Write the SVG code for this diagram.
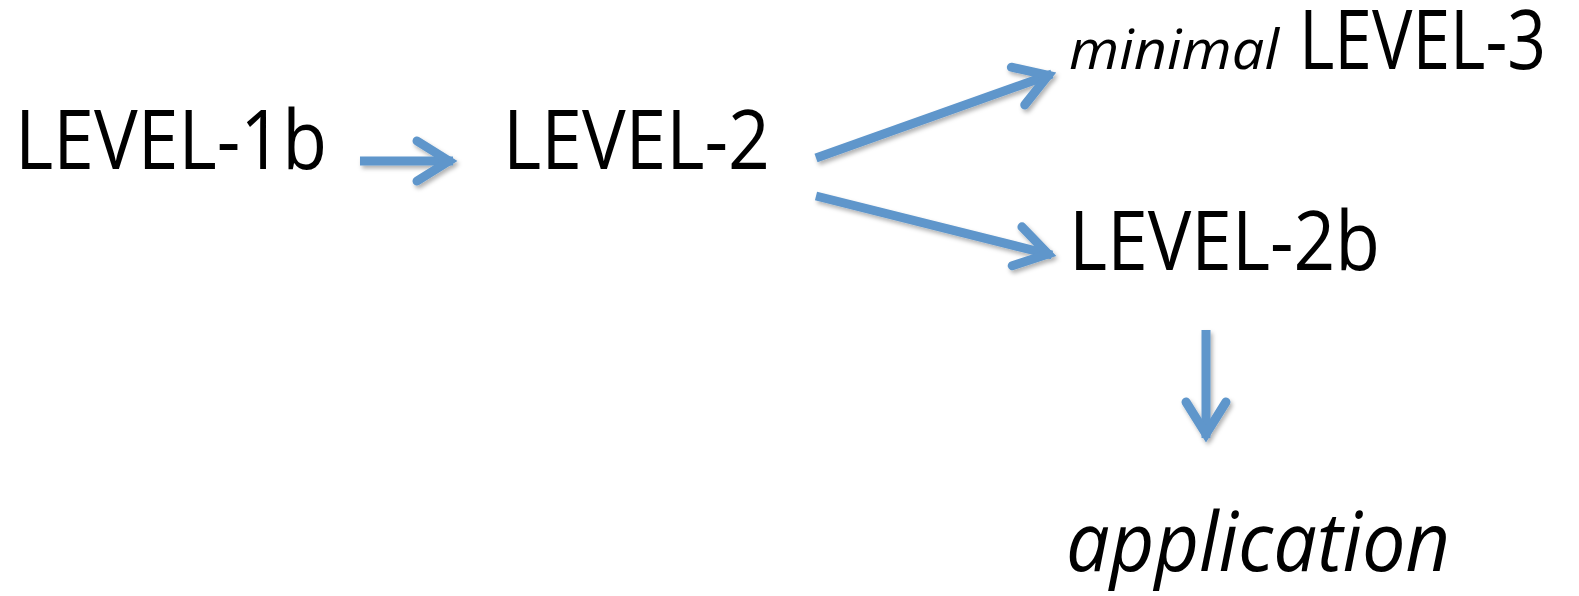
<svg xmlns="http://www.w3.org/2000/svg" width="1579" height="596" viewBox="0 0 1579 596">
<style>
.lbl{font-family:"Open Sans","Liberation Sans",sans-serif;font-size:83px;fill:#000}
.it{font-style:italic}
.conn{stroke:#5F96CB;stroke-width:9;fill:none;stroke-linecap:butt}
</style>
<defs>
<filter id="sh" x="-20%" y="-50%" width="140%" height="200%">
<feDropShadow dx="2" dy="3" stdDeviation="2" flood-color="#000" flood-opacity="0.3"/>
</filter>
<marker id="ah" markerUnits="userSpaceOnUse" orient="auto" refX="4" refY="0" markerWidth="60" markerHeight="60" viewBox="-40 -30 50 60" overflow="visible">
<path d="M-32,-20 L0,0 L-32,20" fill="none" stroke="#5F96CB" stroke-width="9" stroke-linecap="round" stroke-linejoin="miter"/>
</marker>
</defs>
<g id="connectors" filter="url(#sh)">
<line class="conn" x1="360" y1="161" x2="453" y2="161" marker-end="url(#ah)"/>
<line class="conn" x1="816" y1="158" x2="1052" y2="74" marker-end="url(#ah)"/>
<line class="conn" x1="816" y1="196" x2="1052" y2="255" marker-end="url(#ah)"/>
<line class="conn" x1="1206" y1="330" x2="1206" y2="438" marker-end="url(#ah)"/>
</g>
<g id="level1b"><text class="lbl" x="15" y="169" textLength="312" lengthAdjust="spacingAndGlyphs">LEVEL-1b</text></g>
<g id="level2"><text class="lbl" x="503" y="169" textLength="267" lengthAdjust="spacingAndGlyphs">LEVEL-2</text></g>
<g id="level3">
<text class="lbl it" style="font-size:54px" x="1069" y="68.5" textLength="210" lengthAdjust="spacingAndGlyphs">minimal</text>
<text class="lbl" x="1299" y="68.5" textLength="247" lengthAdjust="spacingAndGlyphs">LEVEL-3</text>
</g>
<g id="level2b"><text class="lbl" x="1069" y="270" textLength="311" lengthAdjust="spacingAndGlyphs">LEVEL-2b</text></g>
<g id="application"><text class="lbl it" x="1066" y="571" textLength="384" lengthAdjust="spacingAndGlyphs">application</text></g>
</svg>
